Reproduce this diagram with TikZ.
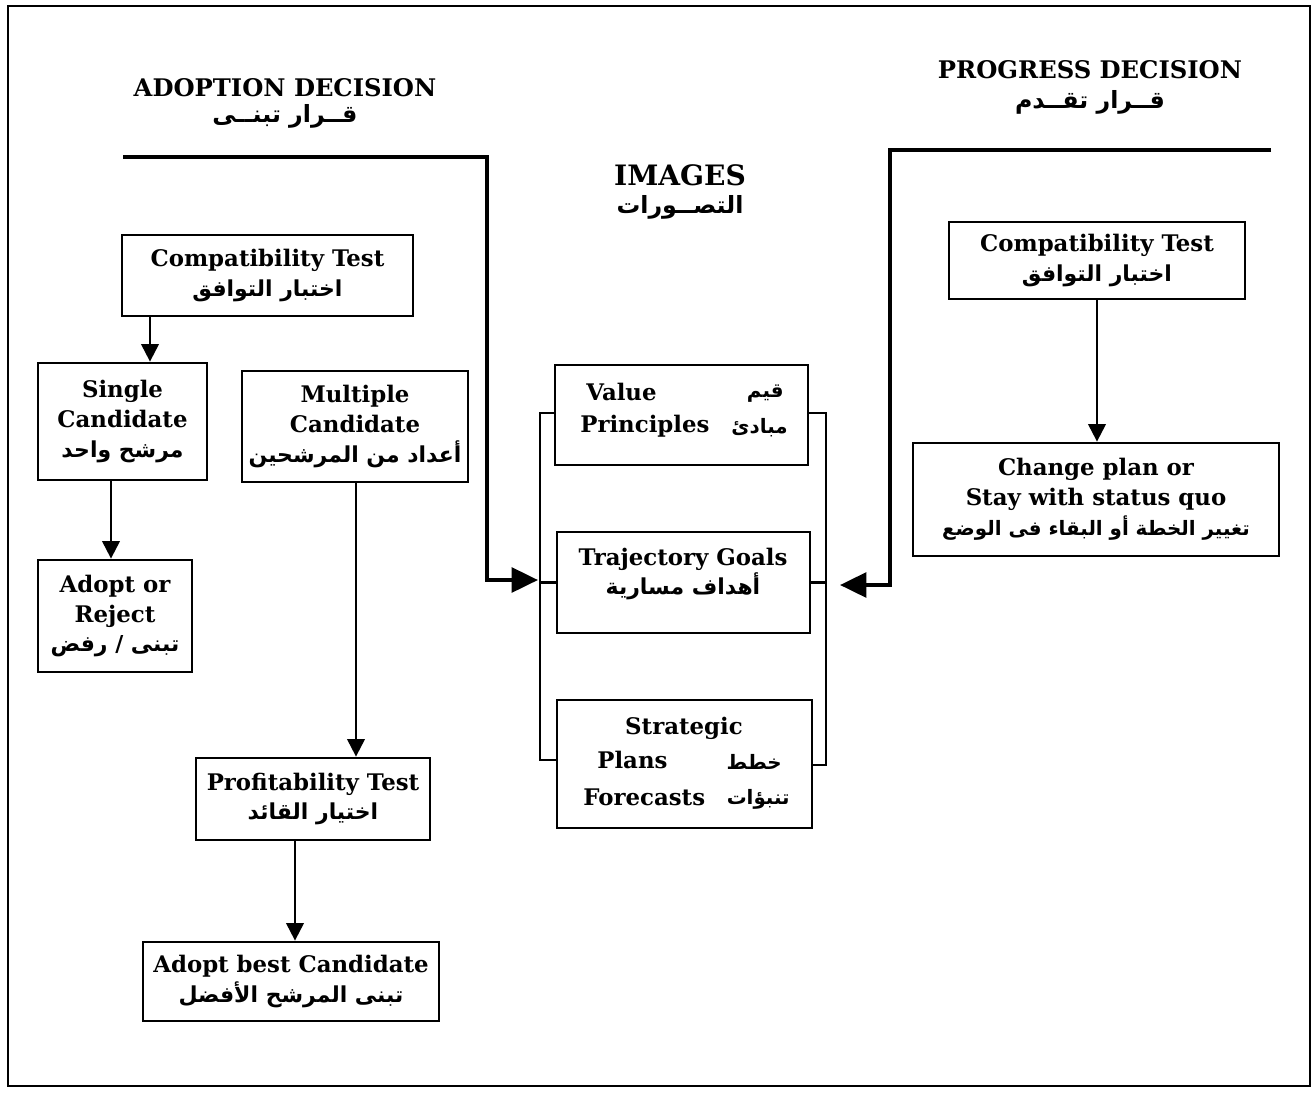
\documentclass[tikz,border=0pt]{standalone}
\usepackage{fontspec}
\setmainfont{DejaVu Serif}
\newfontfamily\arabicfont[Script=Arabic]{DejaVu Sans}
\TeXXeTstate=1
\usetikzlibrary{arrows.meta}
% one right-to-left Arabic line, bold
\newcommand\artxt[1]{{\arabicfont\bfseries\fontsize{12.5}{17}\selectfont\beginR #1\endR}}
\newcommand\artxtbig[1]{{\arabicfont\bfseries\fontsize{13.5}{17}\selectfont\beginR #1\endR}}
\newcommand\artxtsmall[1]{{\arabicfont\bfseries\fontsize{11.3}{17}\selectfont\beginR #1\endR}}

\begin{document}
\begin{tikzpicture}[x=0.02cm,y=-0.02cm,
  box/.style={draw, line width=1.6pt, inner sep=0pt, align=center,
    font=\bfseries\fontsize{13}{17}\selectfont},
  lbl/.style={inner sep=0pt, align=center, font=\bfseries\fontsize{13}{17}\selectfont},
  heading/.style={inner sep=0pt, align=center, font=\bfseries\fontsize{13.8}{17}\selectfont},
  link/.style={line width=1.2pt, -{Triangle[length=10pt,width=10pt]}},
  feed/.style={line width=2.3pt, -{Triangle[length=15pt,width=14pt]}},
  bracket/.style={line width=1.3pt}]
\useasboundingbox (0,0) rectangle (1316,1093);
\draw[line width=1.2pt] (8,6) rectangle (1310,1086);

% headings
\node[heading] (adhead) at (285,88) {ADOPTION DECISION};
\node[inner sep=0pt] (adheadar) at (285,116) {\artxtbig{قــرار تبنــى}};
\node[heading] (prhead) at (1090,70) {PROGRESS DECISION};
\node[inner sep=0pt] (prheadar) at (1090,102) {\artxtbig{قــرار تقــدم}};
\node[heading, font=\bfseries\fontsize{16}{17}\selectfont] (imhead) at (680,175) {IMAGES};
\node[inner sep=0pt] (imheadar) at (680,207) {\artxtbig{التصــورات}};

% adoption side
\node[box, minimum width=5.82cm, minimum height=1.62cm] (compL) at (267.5,275.5)
  {Compatibility Test\\ \artxt{اختبار التوافق}};
\node[box, minimum width=3.38cm, minimum height=2.34cm] (single) at (122.5,421.5)
  {Single\\ Candidate\\ \artxt{مرشح واحد}};
\node[box, minimum width=4.52cm, minimum height=2.22cm] (multi) at (355,426.5)
  {Multiple\\ Candidate\\ \artxt{أعداد من المرشحين}};
\node[box, minimum width=3.08cm, minimum height=2.24cm] (adrej) at (115,616)
  {Adopt or\\ Reject\\ \artxt{تبنى / رفض}};
\node[box, minimum width=4.68cm, minimum height=1.64cm] (profit) at (313,799)
  {Profitability Test\\ \artxt{اختيار القائد}};
\node[box, minimum width=5.92cm, minimum height=1.58cm] (best) at (291,981.5)
  {Adopt best Candidate\\ \artxt{تبنى المرشح الأفضل}};

% images column
\node[box, minimum width=5.06cm, minimum height=2.0cm] (value) at (681.5,415) {};
\node[lbl, anchor=west] (valen) at (586,392) {Value};
\node[inner sep=0pt, anchor=east] (valar) at (784,394) {\artxtsmall{قيم}};
\node[lbl, anchor=west] (prinen) at (580,426) {Principles};
\node[inner sep=0pt, anchor=east] (prinar) at (788,428) {\artxtsmall{مبادئ}};

\node[box, minimum width=5.06cm, minimum height=2.02cm] (traj) at (683.5,582.5) {};
\node[lbl] (trajtx) at (683,574) {Trajectory Goals\\ \artxt{أهداف مسارية}};

\node[box, minimum width=5.10cm, minimum height=2.56cm] (strat) at (684.5,764) {};
\node[lbl] (straten) at (684,728) {Strategic};
\node[lbl, anchor=west] (plansen) at (597,760) {Plans};
\node[inner sep=0pt, anchor=east] (plansar) at (782,762) {\artxtsmall{خطط}};
\node[lbl, anchor=west] (foreen) at (583,797) {Forecasts};
\node[inner sep=0pt, anchor=east] (forear) at (790,799) {\artxtsmall{تنبؤات}};

% progress side
\node[box, minimum width=5.92cm, minimum height=1.54cm] (compR) at (1097,260.5)
  {Compatibility Test\\ \artxt{اختبار التوافق}};
\node[box, minimum width=7.32cm, minimum height=2.26cm] (change) at (1096,499.5)
  {Change plan or\\ Stay with status quo\\ \artxtsmall{تغيير الخطة أو البقاء فى الوضع}};

% arrow positions
\coordinate (xa) at (150,0);
\coordinate (xb) at (111,0);
\coordinate (xc) at (356,0);
\coordinate (xd) at (295,0);
\coordinate (xe) at (1097,0);
\draw[link] (compL.south -| xa) -- (single.north -| xa);
\draw[link] (single.south -| xb) -- (adrej.north -| xb);
\draw[link] (multi.south -| xc) -- (profit.north -| xc);
\draw[link] (profit.south -| xd) -- (best.north -| xd);
\draw[link] (compR.south -| xe) -- (change.north -| xe);

% brackets joining the three images
\coordinate (lbtop) at (540,413);
\coordinate (lbbot) at (540,760);
\coordinate (rbtop) at (826,413);
\coordinate (rbbot) at (826,765);
\draw[bracket] (value.west |- lbtop) -- (lbtop) -- (lbbot) -- (strat.west |- lbbot);
\draw[bracket] (traj.west) -- (traj.west -| lbtop);
\draw[bracket] (value.east |- rbtop) -- (rbtop) -- (rbbot) -- (strat.east |- rbbot);
\draw[bracket] (traj.east) -- (traj.east -| rbtop);

% decision feeds into the images
\coordinate (lstart) at (123,157);
\coordinate (lend) at (538,580);
\coordinate (rstart) at (1271,150);
\coordinate (rend) at (840,585);
\draw[feed] (lstart) -| (487,580) -- (lend);
\draw[feed] (rstart) -| (890,585) -- (rend);
\end{tikzpicture}
\end{document}
